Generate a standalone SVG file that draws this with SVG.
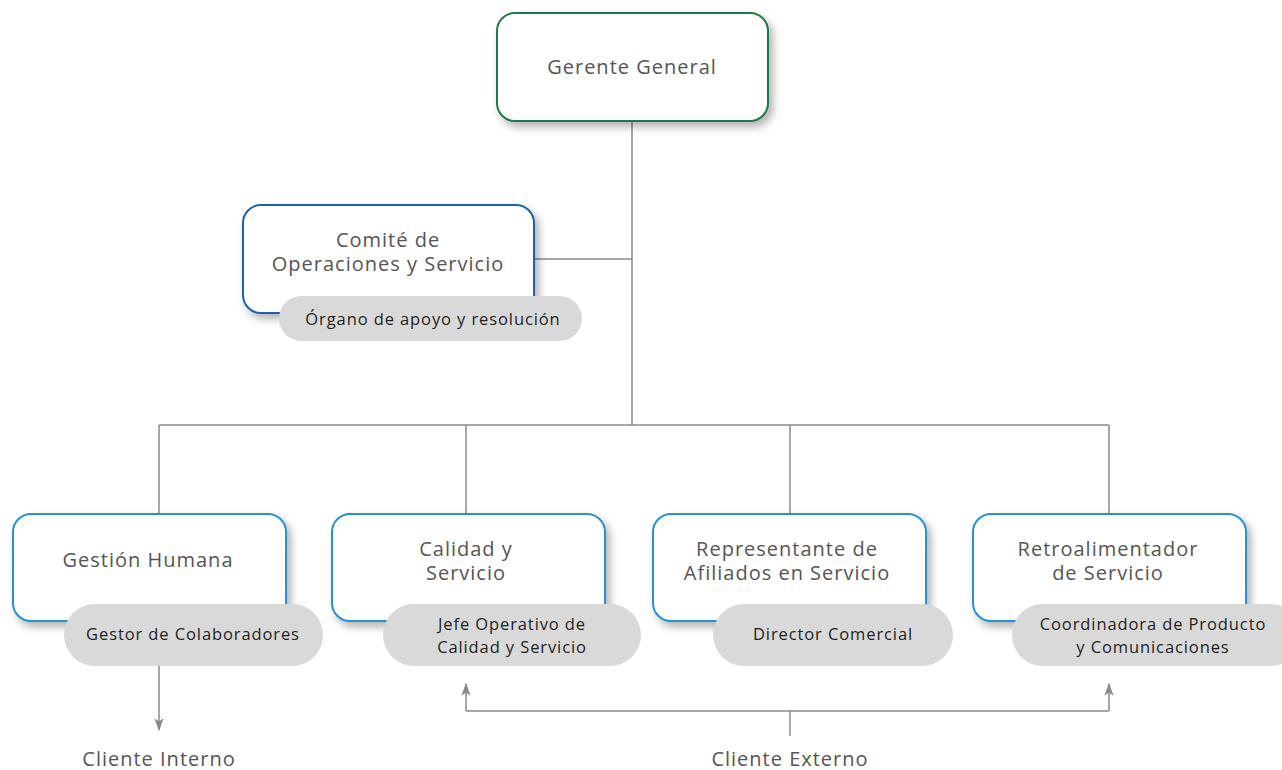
<svg xmlns="http://www.w3.org/2000/svg" width="1282" height="770" viewBox="0 0 1282 770">
  <defs>
    <filter id="shadow" x="-10%" y="-10%" width="130%" height="140%">
      <feDropShadow dx="4" dy="5" stdDeviation="4" flood-color="#000" flood-opacity="0.3"/>
    </filter>
    <marker id="arrow" viewBox="0 0 10 10" refX="9" refY="5" markerWidth="13" markerHeight="13" markerUnits="userSpaceOnUse" orient="auto">
      <path d="M0,1.5 L10,5 L0,8.5 L2.5,5 Z" fill="#8a8a8a"/>
    </marker>
    <style>
      .box { fill: #ffffff; stroke-width: 2; filter: url(#shadow); }
      .top { stroke: #1f7a45; }
      .mid { stroke: #1f62a6; }
      .low { stroke: #2b90cf; }
      .pill { fill: #d9d9d9; }
      .title { font-family: "Open Sans", "Liberation Sans", sans-serif; font-size: 20px; letter-spacing: 1px; fill: #555555; text-anchor: middle; }
      .sub { font-family: "Open Sans", "Liberation Sans", sans-serif; font-size: 16.5px; letter-spacing: 0.9px; fill: #1e1e1e; text-anchor: middle; }
      .link { fill: none; stroke: #8a8a8a; stroke-width: 1.5; }
    </style>
  </defs>

  <!-- connectors -->
  <g id="connectors">
    <path class="link" d="M632,121 V425"/>
    <path class="link" d="M534,259 H632"/>
    <path class="link" d="M159,425 H1109"/>
    <path class="link" d="M159,425 V514"/>
    <path class="link" d="M466,425 V514"/>
    <path class="link" d="M790,425 V514"/>
    <path class="link" d="M1109,425 V514"/>
    <path class="link" d="M159,665 V730" marker-end="url(#arrow)"/>
    <path class="link" d="M790,736 V711"/>
    <path class="link" d="M466,711 H1109"/>
    <path class="link" d="M466,711 V684" marker-end="url(#arrow)"/>
    <path class="link" d="M1109,711 V684" marker-end="url(#arrow)"/>
  </g>

  <!-- top management -->
  <g id="gerente-general">
    <rect class="box top" x="497" y="13" width="271" height="108" rx="18"/>
    <text class="title" x="632" y="74">Gerente General</text>
  </g>

  <g id="comite-operaciones">
    <rect class="box mid" x="243" y="205" width="291" height="108" rx="18"/>
    <text class="title" x="388" y="247">Comité de</text>
    <text class="title" x="388" y="271">Operaciones y Servicio</text>
    <rect class="pill" x="279" y="296" width="303" height="45" rx="22.5"/>
    <text class="sub" x="433" y="325">Órgano de apoyo y resolución</text>
  </g>

  <!-- areas -->
  <g id="gestion-humana">
    <rect class="box low" x="13" y="514" width="273" height="107" rx="18"/>
    <text class="title" x="148" y="567">Gestión Humana</text>
    <rect class="pill" x="64" y="604" width="259" height="62" rx="31"/>
    <text class="sub" x="193" y="640">Gestor de Colaboradores</text>
  </g>

  <g id="calidad-servicio">
    <rect class="box low" x="332" y="514" width="273" height="107" rx="18"/>
    <text class="title" x="466" y="556">Calidad y</text>
    <text class="title" x="466" y="580">Servicio</text>
    <rect class="pill" x="383" y="604" width="258" height="62" rx="31"/>
    <text class="sub" x="512" y="630">Jefe Operativo de</text>
    <text class="sub" x="512" y="653">Calidad y Servicio</text>
  </g>

  <g id="representante-afiliados">
    <rect class="box low" x="653" y="514" width="273" height="107" rx="18"/>
    <text class="title" x="787" y="556">Representante de</text>
    <text class="title" x="787" y="580">Afiliados en Servicio</text>
    <rect class="pill" x="713" y="604" width="240" height="62" rx="31"/>
    <text class="sub" x="833" y="640">Director Comercial</text>
  </g>

  <g id="retroalimentador-servicio">
    <rect class="box low" x="973" y="514" width="273" height="107" rx="18"/>
    <text class="title" x="1108" y="556">Retroalimentador</text>
    <text class="title" x="1108" y="580">de Servicio</text>
    <rect class="pill" x="1012" y="604" width="290" height="62" rx="31"/>
    <text class="sub" x="1153" y="630">Coordinadora de Producto</text>
    <text class="sub" x="1153" y="653">y Comunicaciones</text>
  </g>

  <!-- clients -->
  <g id="cliente-interno">
    <text class="title" x="159" y="766">Cliente Interno</text>
  </g>
  <g id="cliente-externo">
    <text class="title" x="790" y="766">Cliente Externo</text>
  </g>
</svg>
